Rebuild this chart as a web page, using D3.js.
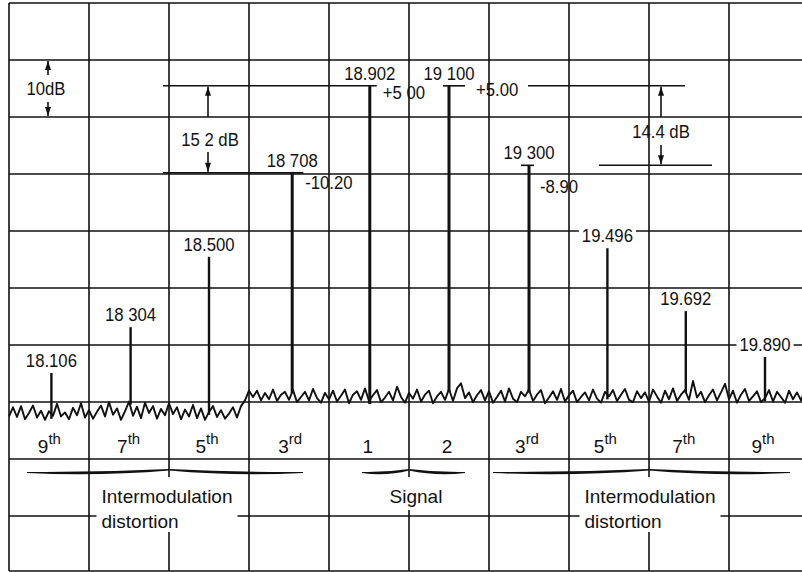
<!DOCTYPE html>
<html>
<head>
<meta charset="utf-8">
<script src="https://cdn.jsdelivr.net/npm/d3@7"></script>
<style>
  body { margin: 0; background: #fff; }
  svg { display: block; }
  text { font-family: 'Liberation Sans', Arial, sans-serif; font-size: 19px; fill: #111; }
</style>
</head>
<body>
<div id="chart"></div>
<script>
// spectrum lines, MHz and dB
var peakFreqs  = [18.106, 18.304, 18.500, 18.708, 18.902, 19.100, 19.300, 19.496, 19.692, 19.890];
var peakLevels = [-45.2, -37.2, -24.9, -10.2, 5.0, 5.0, -8.9, -23.4, -34.4, -42.4];
var peakLabels = ['18.106', '18 304', '18.500', '18 708', '18.902', '19 100', '19 300', '19.496', '19.692', '19.890'];
var orderLabels = [['9', 'th'], ['7', 'th'], ['5', 'th'], ['3', 'rd'], ['1', ''], ['2', ''], ['3', 'rd'], ['5', 'th'], ['7', 'th'], ['9', 'th']];

// readouts next to the four strong lines (peaks 3..6)
var readouts = ['-10.20', '+5 00', '+5.00', '-8.90'];

// dB spans
var spanLabels = ['10dB', '15 2 dB', '14.4 dB'];

var groupNames = [['Intermodulation', 'distortion'], ['Signal'], ['Intermodulation', 'distortion']];

// noise floor, one sample every 0.01 MHz from 18.00
var noiseStart = 18.0, noiseStep = 0.01;
var noiseLevels = [
  -52.8,-51.2,-52.9,-51.0,-53.3,-52.2,-50.9,-53.0,-51.8,-53.4,
  -51.9,-52.7,-50.6,-52.8,-52.1,-53.3,-51.3,-52.6,-50.5,-53.0,
  -51.7,-53.2,-52.0,-50.9,-52.8,-50.3,-52.5,-51.4,-53.4,-51.9,
  -50.2,-52.7,-51.1,-53.1,-50.4,-52.2,-51.0,-53.2,-51.5,-52.6,
  -50.5,-52.4,-51.2,-53.3,-51.6,-52.8,-50.8,-53.1,-51.4,-53.4,
  -52.0,-51.0,-52.9,-51.7,-53.2,-52.3,-51.2,-53.0,-51.0,-50.0,
  -48.3,
  -49.4,-48.3,-50.0,-48.7,-49.8,-48.1,-50.1,-49.0,-48.5,-49.9,
  -48.2,-50.3,-49.4,-48.5,-50.0,-48.0,-49.6,-50.4,-48.7,-49.8,
  -48.3,-50.2,-49.2,-48.1,-50.5,-49.0,-48.4,-49.9,-47.9,-50.1,
  -49.1,-48.2,-50.3,-49.5,-48.5,-50.0,-47.6,-49.4,-50.4,-48.7,
  -49.7,-48.1,-50.2,-49.0,-48.3,-50.5,-49.3,-48.5,-49.9,-48.0,
  -50.1,-47.9,-47.0,-49.6,-48.6,-50.3,-49.1,-48.2,-50.0,-48.4,
  -50.4,-49.4,-48.3,-50.2,-47.9,-49.7,-50.3,-48.5,-49.3,-48.1,
  -50.1,-49.0,-48.2,-50.5,-49.5,-48.4,-49.9,-48.0,-50.2,-49.1,
  -48.3,-50.3,-49.4,-48.6,-50.0,-48.1,-49.7,-50.4,-48.5,-49.3,
  -48.2,-50.1,-49.0,-48.0,-49.9,-50.3,-48.4,-49.6,-48.6,-50.2,
  -48.1,-49.3,-50.4,-48.3,-49.8,-47.9,-50.1,-49.0,-48.2,-49.9,
  -46.6,-49.5,-48.5,-50.3,-49.1,-48.1,-50.0,-48.6,-47.1,-49.8,
  -48.3,-50.4,-49.0,-48.0,-50.1,-49.3,-48.4,-50.3,-49.6,-48.2,
  -50.2,-48.5,-49.4,-50.4,-48.3,-49.8,-48.6,-50.0,-48.1,-49.3
];

var W = 802, H = 572;
var NARROW = 0.88; // digits are set narrow
var svg = d3.select('#chart').append('svg').attr('width', W).attr('height', H);

var x = d3.scaleLinear().domain([18, 20]).range([9, 809]);
var y = d3.scaleLinear().domain([20, -80]).range([0, 572]);
// graticule divisions
var gx = d3.scaleLinear().domain([0, 10]).range([9, 809]);
var gy = d3.scaleLinear().domain([0, 10]).range([3, 573]);

var grid = svg.append('g').attr('stroke', '#111').attr('stroke-width', 1.6);
grid.selectAll('line.v').data(d3.range(11)).enter().append('line')
  .attr('x1', gx).attr('x2', gx).attr('y1', gy(0)).attr('y2', 571);
grid.selectAll('line.h').data(d3.range(11)).enter().append('line')
  .attr('x1', gx(0)).attr('x2', gx(10))
  .attr('y1', function(d) { return Math.min(gy(d), 571); })
  .attr('y2', function(d) { return Math.min(gy(d), 571); });

var noise = noiseLevels.map(function(v, i) { return { f: noiseStart + i * noiseStep, v: v }; });
function floorAt(f) {
  var i = Math.round((f - noiseStart) / noiseStep);
  return noiseLevels[Math.max(0, Math.min(noiseLevels.length - 1, i))];
}

// noise trace
svg.append('path').datum(noise)
  .attr('fill', 'none').attr('stroke', '#111').attr('stroke-width', 1.9).attr('stroke-linejoin', 'round')
  .attr('d', d3.line().x(function(d) { return x(d.f); }).y(function(d) { return y(d.v); }));

// spectral lines
svg.append('g').selectAll('line').data(peakFreqs).enter().append('line')
  .attr('x1', function(d) { return x(d); }).attr('x2', function(d) { return x(d); })
  .attr('y1', function(d, i) { return y(peakLevels[i]); })
  .attr('y2', function(d) { return y(floorAt(d)) + 3; })
  .attr('stroke', '#111')
  .attr('stroke-width', function(d, i) { return peakLevels[i] > -15 ? 3 : 2.4; });

var ink = svg.append('g').attr('stroke', '#111').attr('stroke-width', 1.6);
function hline(x1, x2, yy) { ink.append('line').attr('x1', x1).attr('x2', x2).attr('y1', yy).attr('y2', yy); }

// reference levels and tee bars
hline(163, x(peakFreqs[4]) + 7, y(peakLevels[4]));
hline(163, x(peakFreqs[3]) + 11, y(peakLevels[3]));
hline(x(peakFreqs[3]) - 2, x(peakFreqs[3]) + 11, y(peakLevels[3]));
hline(x(peakFreqs[5]) - 6, x(peakFreqs[5]) + 16, y(peakLevels[5]));
hline(528, 685, y(peakLevels[5]));
hline(x(peakFreqs[6]) - 8, x(peakFreqs[6]) + 5, y(peakLevels[6]));
hline(599, 712, y(peakLevels[6]));

// text placed by transform, optionally squeezed
function txt(g, str, tx, ty, anchor, sx) {
  return g.append('text')
    .attr('transform', 'translate(' + tx + ',' + ty + ') scale(' + (sx || 1) + ',1)')
    .attr('text-anchor', anchor || 'middle').text(str);
}
function box(g, t, tx, ty, sx) {
  var b = t.node().getBBox();
  g.insert('rect', 'text').attr('x', tx + b.x * sx - 3).attr('y', ty + b.y + 1)
    .attr('width', b.width * sx + 6).attr('height', b.height - 1).attr('fill', '#fff');
}

var lab = svg.append('g');
peakFreqs.forEach(function(f, i) {
  var g = lab.append('g');
  var tx = x(f), ty = y(peakLevels[i]) - 6;
  box(g, txt(g, peakLabels[i], tx, ty, 'middle', NARROW), tx, ty, NARROW);
});

var readoutPos = [[13, 16], [13, 13], [27, 10], [11, 28]];
readouts.forEach(function(r, k) {
  var i = k + 3, p = readoutPos[k];
  txt(lab, r, x(peakFreqs[i]) + p[0], y(peakLevels[i]) + p[1], 'start', NARROW);
});

// dB spans with arrows
function arrow(ax, from, to) {
  ink.append('line').attr('x1', ax).attr('x2', ax).attr('y1', from).attr('y2', to);
  var d = to < from ? 1 : -1;
  svg.append('path').attr('fill', '#111')
    .attr('d', 'M' + ax + ',' + to + 'L' + (ax - 3) + ',' + (to + d * 9) + 'L' + (ax + 3) + ',' + (to + d * 9) + 'Z');
}
var spans = [
  { ax: 48, top: gy(1), bot: gy(2), up: 75, down: 102, tx: 46, ty: 95 },
  { ax: 208, top: y(peakLevels[4]), bot: y(peakLevels[3]), up: gy(2), down: 152, tx: 210, ty: 146 },
  { ax: 661, top: y(peakLevels[5]), bot: y(peakLevels[6]), up: gy(2), down: 145, tx: 661, ty: 138 }
];
spans.forEach(function(s, i) {
  arrow(s.ax, s.up, s.top + 1);
  arrow(s.ax, s.down, s.bot - 1);
  txt(lab, spanLabels[i], s.tx, s.ty, 'middle', NARROW);
});

// harmonic order row
var ord = svg.append('g');
orderLabels.forEach(function(o, i) {
  var t = txt(ord, '', x(peakFreqs[i]) - 2, 453);
  t.append('tspan').text(o[0]);
  if (o[1]) t.append('tspan').attr('dy', -9).attr('font-size', 15).text(o[1]);
});

// braces
function brace(x0, xm, x1, yc) {
  var p = 'M' + x0 + ',' + yc +
    'Q' + (x0 + xm) / 2 + ',' + (yc + 0.5) + ' ' + xm + ',' + (yc - 3) +
    'Q' + (xm + x1) / 2 + ',' + (yc + 0.5) + ' ' + x1 + ',' + yc +
    'L' + x1 + ',' + (yc + 1) +
    'Q' + (xm + x1) / 2 + ',' + (yc + 4.5) + ' ' + xm + ',' + (yc - 1.5) +
    'Q' + (x0 + xm) / 2 + ',' + (yc + 4.5) + ' ' + x0 + ',' + (yc + 1) + 'Z';
  svg.append('path').attr('d', p).attr('fill', '#111');
}
var braces = [[27, gx(2), 303], [362, gx(5), 465], [493, gx(8), 790]];
braces.forEach(function(b) { brace(b[0], b[1], b[2], 472); });

var grp = svg.append('g');
var groupCenters = [gx(2) - 2, gx(5) + 7, gx(8) + 1];
groupNames.forEach(function(names, i) {
  var g = grp.append('g');
  var cx = groupCenters[i];
  var t1 = txt(g, names[0], cx, 503);
  var b1 = t1.node().getBBox();
  var left = cx + b1.x, width = b1.width;
  var bottom = 510;
  if (names[1]) {
    txt(g, names[1], left, 528, 'start');
    bottom = 532;
  }
  g.insert('rect', 'text').attr('x', left - 5).attr('y', 477).attr('width', width + 10).attr('height', bottom - 477).attr('fill', '#fff');
});
</script>
</body>
</html>
